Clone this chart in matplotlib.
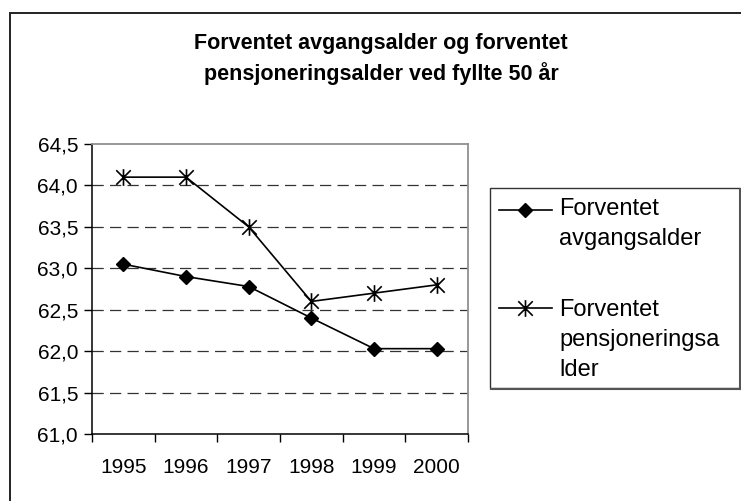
import matplotlib
matplotlib.use("Agg")
import matplotlib.pyplot as plt
from matplotlib.path import Path
from matplotlib.patches import Rectangle
from matplotlib.lines import Line2D

years = ["1995", "1996", "1997", "1998", "1999", "2000"]
avgang = [63.05, 62.90, 62.78, 62.40, 62.03, 62.03]
pensjon = [64.10, 64.10, 63.50, 62.60, 62.70, 62.80]
label_avgang = ["Forventet", "avgangsalder"]
label_pensjon = ["Forventet", "pensjoneringsa", "lder"]
title = "Forventet avgangsalder og forventet\npensjoneringsalder ved fyllte 50 år"
yticks = [61.0, 61.5, 62.0, 62.5, 63.0, 63.5, 64.0, 64.5]

plt.rcParams['font.family'] = ['Liberation Sans', 'DejaVu Sans']

W, H = 741, 501
fig = plt.figure(figsize=(W / 100, H / 100), dpi=100)

def fx(px):
    return px / W

def fy(py):
    return 1 - py / H

# outer frame
fig.patches.append(Rectangle((fx(10), fy(520)), fx(760) - fx(10), fy(12.5) - fy(520),
                             transform=fig.transFigure, fill=False, edgecolor='#222222',
                             linewidth=1.4, clip_on=False))

left, right, top, bottom = 92, 468, 144, 434
ax = fig.add_axes([fx(left), fy(bottom), fx(right) - fx(left), fy(top) - fy(bottom)])

star = Path([(-1, -1), (1, 1), (-1, 1), (1, -1), (0, -1.15), (0, 1.15)],
            [Path.MOVETO, Path.LINETO, Path.MOVETO, Path.LINETO, Path.MOVETO, Path.LINETO])

line_kw = dict(color='black', linewidth=1.2)
dia_kw = dict(marker='D', markersize=7.5, markerfacecolor='black', markeredgecolor='black')
star_kw = dict(marker=star, markersize=12, markerfacecolor='none',
               markeredgecolor='black', markeredgewidth=1.2)

x = list(range(len(years)))
ax.plot(x, avgang, zorder=3, **line_kw, **dia_kw)
ax.plot(x, pensjon, zorder=3, **line_kw, **star_kw)

ax.set_xlim(-0.5, len(years) - 0.5)
ax.set_ylim(61.0, 64.5)
ax.set_yticks(yticks)
ax.set_yticklabels([f"{v:.1f}".replace('.', ',') for v in yticks], fontsize=15)
ax.set_xticks(x)
ax.set_xticklabels(years, fontsize=15)
ax.tick_params(axis='x', which='major', length=0, pad=17)
ax.set_xticks([i - 0.5 for i in range(len(years) + 1)], minor=True)
ax.tick_params(axis='x', which='minor', length=6, direction='out', width=1, color='black')
ax.tick_params(axis='y', length=6, direction='out', width=1, pad=4, color='black')

for v in yticks[1:-1]:
    ax.axhline(v, color='#333333', linewidth=0.9, linestyle=(0, (9, 5)), zorder=1)

for s in ['left', 'bottom']:
    ax.spines[s].set_color('black')
    ax.spines[s].set_linewidth(1.1)
for s in ['top', 'right']:
    ax.spines[s].set_color('#909090')
    ax.spines[s].set_linewidth(1.3)

fig.text(fx(381), fy(59), title, ha='center', va='center', fontsize=15.5,
         fontweight='bold', linespacing=1.5)

# manual legend
fig.patches.append(Rectangle((fx(490), fy(388)), fx(740) - fx(490), fy(188) - fy(388),
                             transform=fig.transFigure, fill=False, edgecolor='#333333',
                             linewidth=1.0))
fig.lines.append(Line2D([fx(740), fx(740)], [fy(189), fy(389)], transform=fig.transFigure,
                        color='#555555', linewidth=1.5))
fig.lines.append(Line2D([fx(491), fx(740)], [fy(389), fy(389)], transform=fig.transFigure,
                        color='#555555', linewidth=1.5))

entries = [(label_avgang, dia_kw, 210, 215), (label_pensjon, star_kw, 308, 316)]
for labels, mk, hy, base in entries:
    fig.lines.append(Line2D([fx(499), fx(552)], [fy(hy), fy(hy)], transform=fig.transFigure,
                            **line_kw))
    fig.lines.append(Line2D([fx(525)], [fy(hy)], transform=fig.transFigure,
                            linestyle='none', **mk))
    for i, t in enumerate(labels):
        fig.text(fx(559), fy(base + 30 * i), t, ha='left', va='baseline', fontsize=17)

fig.savefig("out.png", dpi=100)
